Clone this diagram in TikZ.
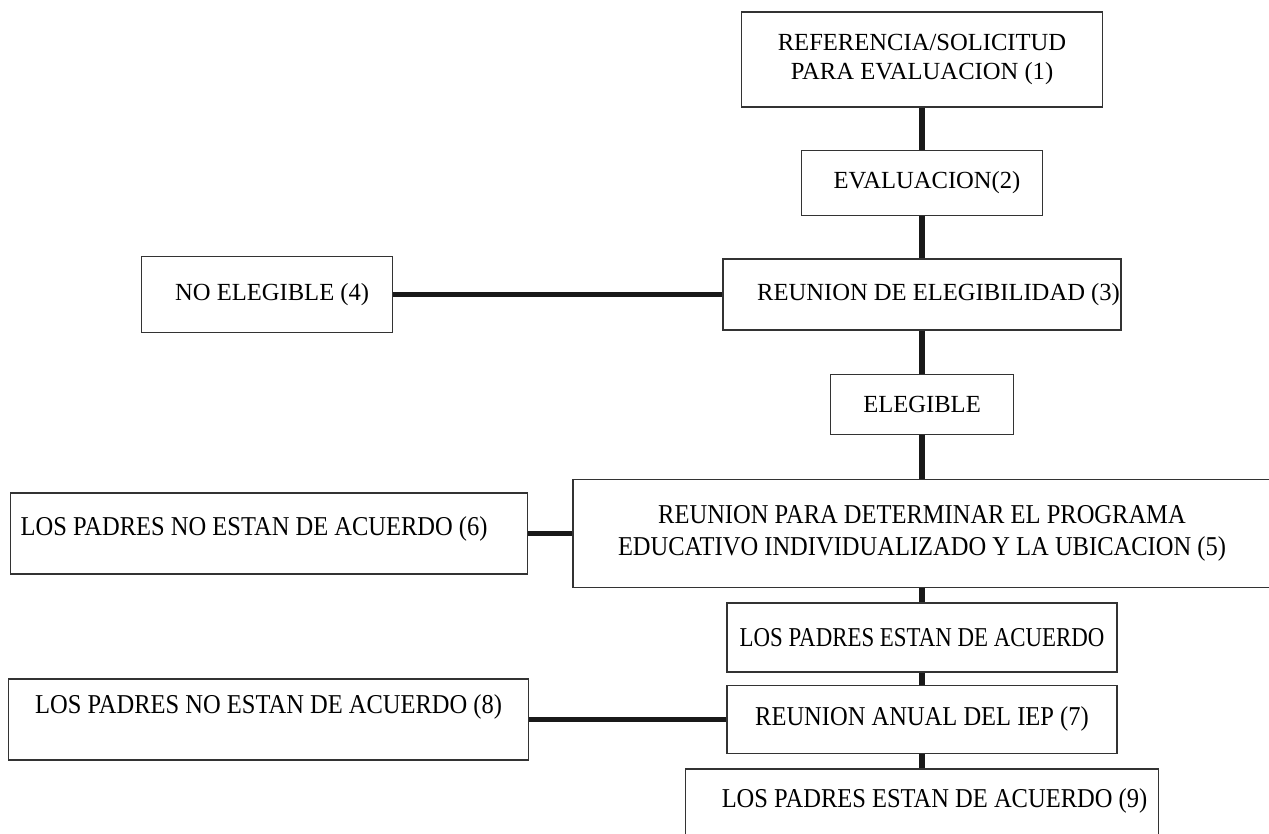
\documentclass[tikz,border=0pt]{standalone}
\usepackage{fontspec}
\setmainfont{Liberation Serif}
\newfontfamily\narrowserif{Liberation Serif}[FakeStretch=0.9]
\newfontfamily\narrowerserif{Liberation Serif}[FakeStretch=0.84]
\usetikzlibrary{positioning}
\tikzstyle{stage} = [rectangle, draw=black!80, line width=0.8pt, align=center, inner sep=0pt, font=\fontsize{14}{16}\selectfont]
\tikzstyle{tallstage} = [stage, font=\narrowserif\fontsize{15.5}{18}\selectfont]
\tikzstyle{connector} = [line width=3pt, draw=black!90]

\begin{document}
\begin{tikzpicture}[node distance=0.84cm]
\useasboundingbox (0,0) rectangle (25.38,-16.66);
\node (referral) [stage, minimum width=7.22cm, minimum height=1.9cm] at (18.44,-1.19) {REFERENCIA/SOLICITUD\\PARA EVALUACION (1)};
  \node (evaluation) [stage, minimum width=4.82cm, minimum height=1.3cm, below=of referral] {\hspace*{0.2cm}EVALUACION(2)};
  \node (eligmeeting) [stage, minimum width=7.96cm, minimum height=1.42cm, below=of evaluation] {\hspace*{0.66cm}REUNION DE ELEGIBILIDAD (3)};
  \node (noteligible) [stage, minimum width=5.02cm, minimum height=1.52cm, left=6.58cm of eligmeeting] {\hspace*{0.2cm}NO ELEGIBLE (4)};
  \node (eligible) [stage, minimum width=3.66cm, minimum height=1.2cm, below=0.86cm of eligmeeting] {ELEGIBLE};

    \node (iepmeeting) [tallstage, minimum width=13.96cm, minimum height=2.16cm, below=0.88cm of eligible] {REUNION PARA DETERMINAR EL PROGRAMA\\EDUCATIVO INDIVIDUALIZADO Y LA UBICACION (5)};
    \node (disagree1) [tallstage, minimum width=10.34cm, minimum height=1.62cm, left=0.88cm of iepmeeting, text depth=0.3cm] {LOS PADRES NO ESTAN DE ACUERDO (6)\hspace*{0.6cm}};

    \node (agree1) [tallstage, minimum width=7.8cm, minimum height=1.38cm, below=0.28cm of iepmeeting, font=\narrowerserif\fontsize{15.5}{18}\selectfont] {LOS PADRES ESTAN DE ACUERDO};
    \node (annual) [tallstage, minimum width=7.8cm, minimum height=1.36cm, below=0.24cm of agree1] {REUNION ANUAL DEL IEP (7)};
    \node (disagree2) [tallstage, minimum width=10.4cm, minimum height=1.62cm, left=3.94cm of annual, text depth=0.6cm] {LOS PADRES NO ESTAN DE ACUERDO (8)};
    \node (agree2) [tallstage, minimum width=9.46cm, minimum height=1.8cm, below=0.28cm of annual, text depth=0.62cm] {\hspace*{0.5cm}LOS PADRES ESTAN DE ACUERDO (9)};

  \draw [connector] (referral) -- (evaluation);
  \draw [connector] (evaluation) -- (eligmeeting);
  \draw [connector] (eligmeeting) -- (eligible);
  \draw [connector] (eligible) -- (iepmeeting);
  \draw [connector] (iepmeeting) -- (agree1);
  \draw [connector] (agree1) -- (annual);
  \draw [connector] (annual) -- (agree2);

  \draw [connector] (noteligible) -- (eligmeeting);
  \draw [connector] (disagree1) -- (iepmeeting);
  \draw [connector] (disagree2) -- (annual);
\end{tikzpicture}
\end{document}
